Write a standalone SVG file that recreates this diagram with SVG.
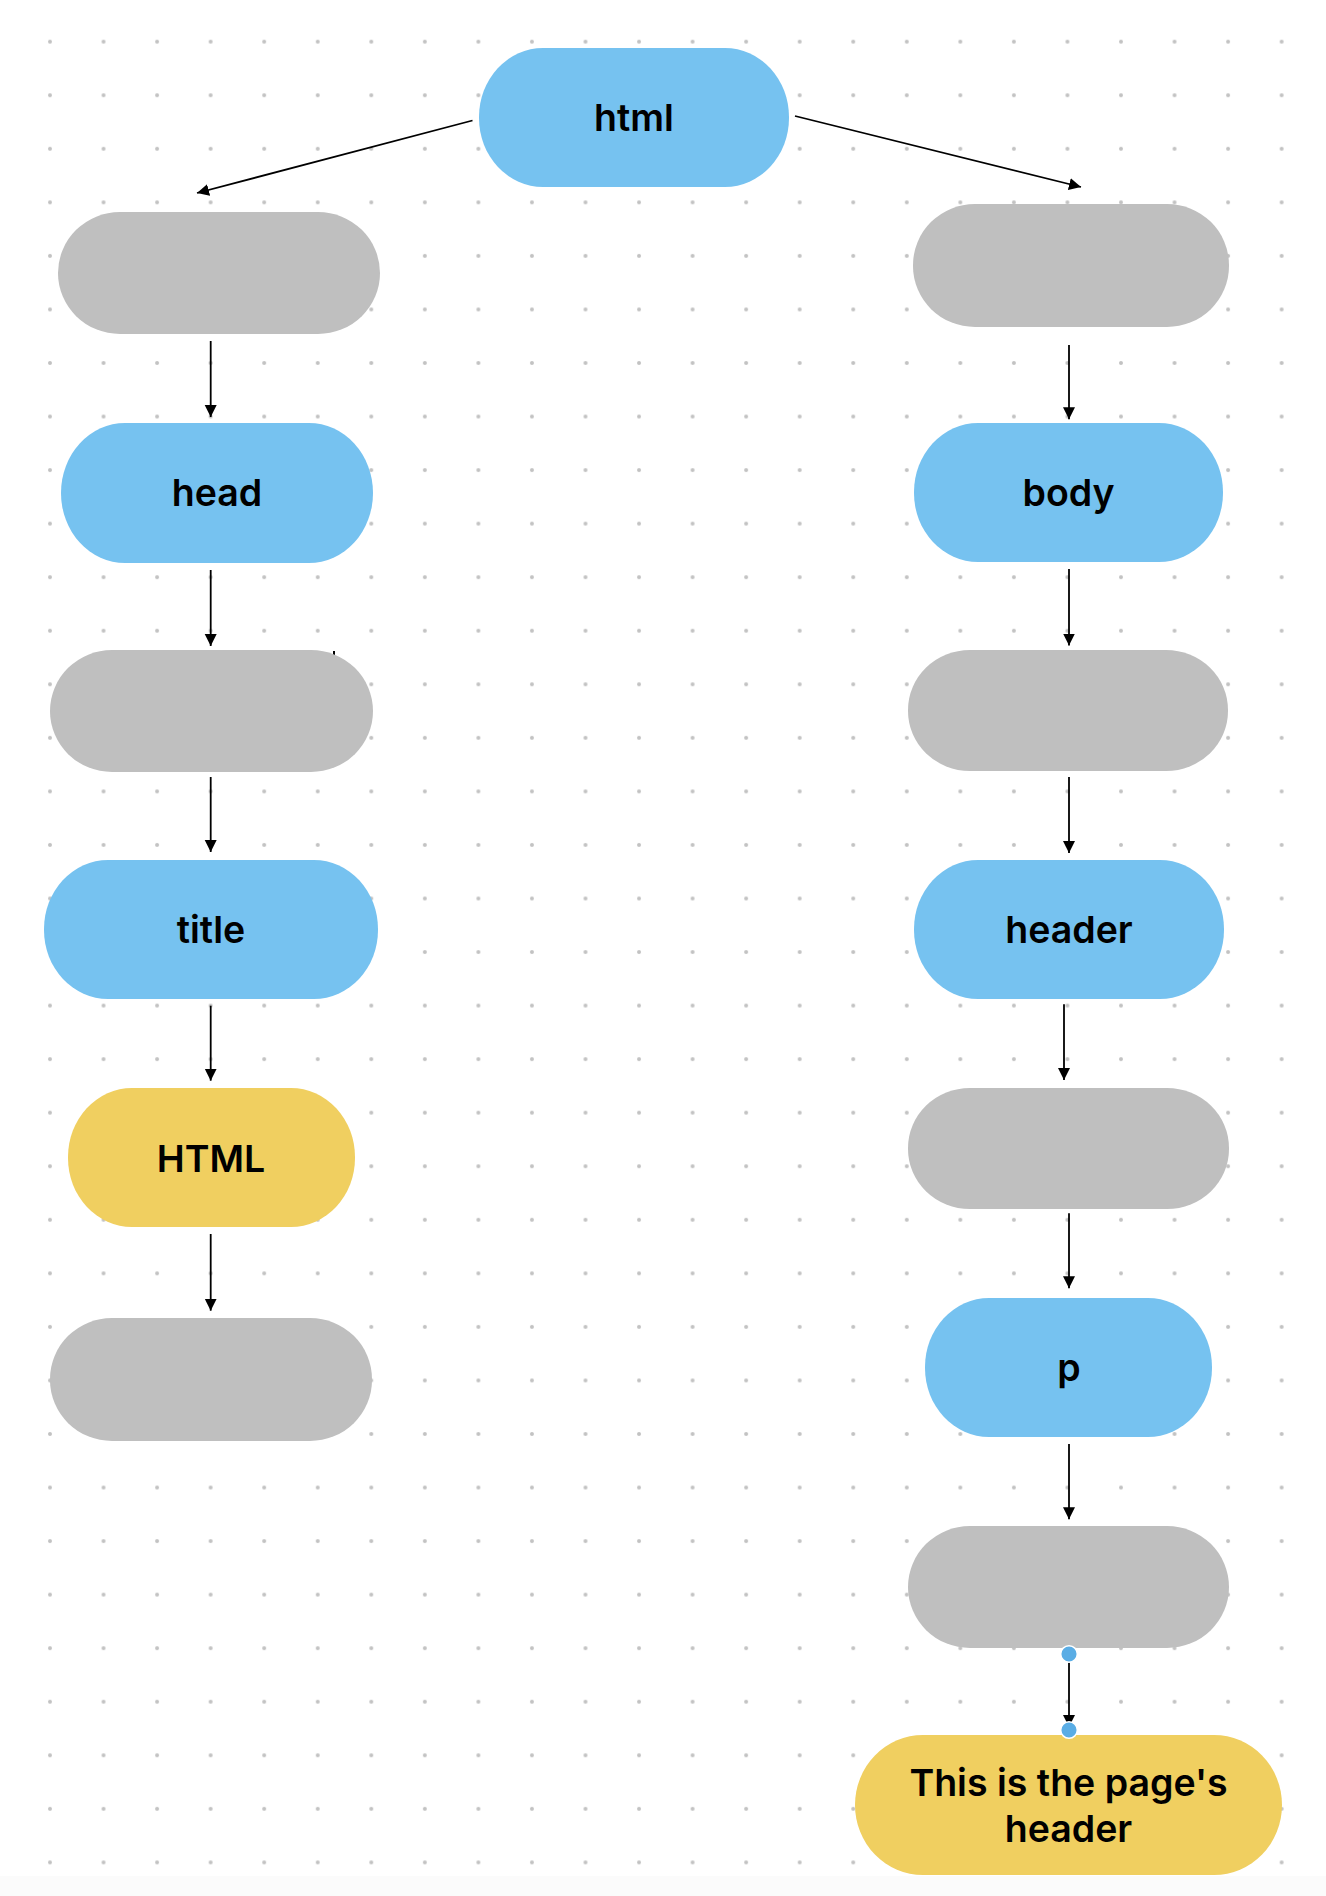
<svg xmlns="http://www.w3.org/2000/svg" width="1326" height="1896" viewBox="0 0 1326 1896">
  <defs>
    <pattern id="dots" patternUnits="userSpaceOnUse" x="23.22" y="14.92" width="53.55" height="53.55">
      <circle cx="26.775" cy="26.775" r="2" fill="#c2c2c2"/>
    </pattern>
    <marker id="arrow" markerUnits="userSpaceOnUse" markerWidth="14" markerHeight="14" refX="12" refY="6" orient="auto">
      <path d="M0,0 L12,6 L0,12 z" fill="#000"/>
    </marker>
  </defs>
  <style>
    .blue { fill: #76c2f0; }
    .gray { fill: #bfbfbf; }
    .yellow { fill: #f0cf60; }
    .lbl { font-family: Inter, "Noto Sans", "Liberation Sans", sans-serif; font-size: 37.5px; font-weight: 600; fill: #000; text-anchor: middle; }
    .conn { stroke: #000; stroke-width: 1.8; fill: none; marker-end: url(#arrow); }
    .handle { fill: #5aade5; stroke: #fff; stroke-width: 1.5; }
  </style>
  <rect x="0" y="0" width="1326" height="1896" fill="#fff"/>
  <rect x="0" y="1876" width="1326" height="20" fill="#fbfbfb"/>
  <rect x="23.22" y="14.92" width="1285.2" height="1874.25" fill="url(#dots)"/>

  <g id="connectors">
    <line class="conn" x1="472.5" y1="120.5" x2="197" y2="193"/>
    <line class="conn" x1="795" y1="116" x2="1081" y2="187"/>
    <line class="conn" x1="210.7" y1="341" x2="210.7" y2="417"/>
    <line class="conn" x1="210.7" y1="570" x2="210.7" y2="646"/>
    <line class="conn" x1="210.7" y1="777" x2="210.7" y2="852"/>
    <line class="conn" x1="210.7" y1="1005.7" x2="210.7" y2="1080.7"/>
    <line class="conn" x1="210.7" y1="1234" x2="210.7" y2="1310.7"/>
    <line class="conn" x1="1069" y1="345" x2="1069" y2="419.3"/>
    <line class="conn" x1="1069" y1="569" x2="1069" y2="645.5"/>
    <line class="conn" x1="1069" y1="777" x2="1069" y2="853"/>
    <line class="conn" x1="1064" y1="1004.3" x2="1064" y2="1080"/>
    <line class="conn" x1="1069" y1="1213.3" x2="1069" y2="1288.3"/>
    <line class="conn" x1="1069" y1="1444" x2="1069" y2="1519.3"/>
    <line class="conn" x1="1069" y1="1654" x2="1069" y2="1727"/>
    <rect x="333" y="651" width="2" height="4" fill="#000"/>
  </g>

  <g id="node-html"><rect class="blue" x="479" y="48" width="310" height="139" rx="64" ry="69"/><text class="lbl" x="634" y="131">html</text></g>

  <g id="node-left-1"><rect class="gray" x="58" y="212" width="322" height="122" rx="62" ry="61"/></g>
  <g id="node-head"><rect class="blue" x="61" y="423" width="312" height="140" rx="64" ry="70"/><text class="lbl" x="217" y="506">head</text></g>
  <g id="node-left-2"><rect class="gray" x="50" y="650" width="323" height="122" rx="62" ry="61"/></g>
  <g id="node-title"><rect class="blue" x="44" y="860" width="334" height="139" rx="64" ry="69"/><text class="lbl" x="211" y="943.3">title</text></g>
  <g id="node-HTML"><rect class="yellow" x="68" y="1088" width="287" height="139" rx="64" ry="69"/><text class="lbl" x="211" y="1171.7">HTML</text></g>
  <g id="node-left-3"><rect class="gray" x="50" y="1318" width="322" height="123" rx="62" ry="61"/></g>

  <g id="node-right-1"><rect class="gray" x="913" y="204" width="316" height="123" rx="62" ry="61"/></g>
  <g id="node-body"><rect class="blue" x="914" y="423" width="309" height="139" rx="64" ry="69"/><text class="lbl" x="1068.6" y="506">body</text></g>
  <g id="node-right-2"><rect class="gray" x="908" y="650" width="320" height="121" rx="62" ry="60"/></g>
  <g id="node-header"><rect class="blue" x="914" y="860" width="310" height="139" rx="64" ry="69"/><text class="lbl" x="1069" y="943.3">header</text></g>
  <g id="node-right-3"><rect class="gray" x="908" y="1088" width="321" height="121" rx="62" ry="60"/></g>
  <g id="node-p"><rect class="blue" x="925" y="1298" width="287" height="139" rx="64" ry="69"/><text class="lbl" x="1069" y="1381">p</text></g>
  <g id="node-right-4"><rect class="gray" x="908" y="1526" width="321" height="122" rx="62" ry="61"/></g>
  <g id="node-page-header"><rect class="yellow" x="855" y="1735" width="427" height="140" rx="68" ry="70"/><text class="lbl" x="1068.5" y="1796">This is the page's</text><text class="lbl" x="1068.5" y="1841.7">header</text></g>

  <g id="handles">
    <circle class="handle" cx="1069" cy="1654" r="8.3"/>
    <circle class="handle" cx="1069" cy="1730" r="8.3"/>
  </g>
</svg>
